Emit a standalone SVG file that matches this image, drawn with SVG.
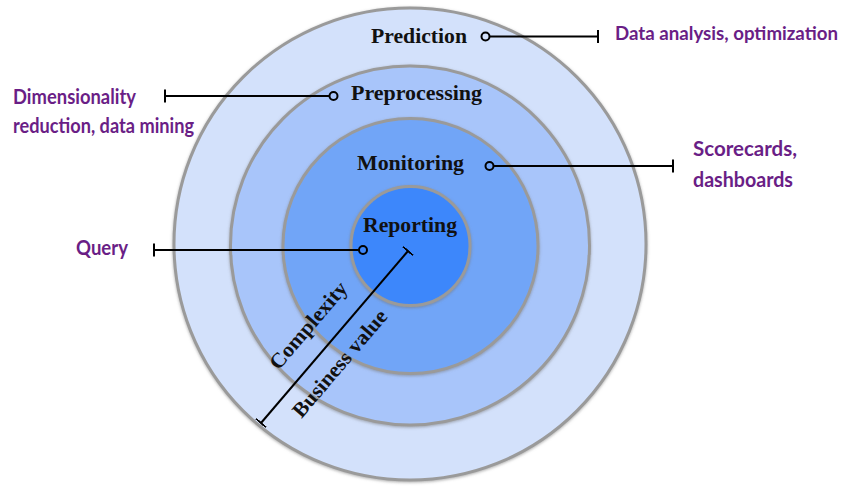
<svg xmlns="http://www.w3.org/2000/svg" width="845" height="486" viewBox="0 0 845 486">
<defs>
<filter id="sh" x="-10%" y="-10%" width="120%" height="120%">
<feDropShadow dx="0" dy="1" stdDeviation="1.5" flood-color="#777" flood-opacity="0.6"/>
</filter>
<marker id="tick" viewBox="-1 -7 2 14" markerWidth="2" markerHeight="14" orient="auto" markerUnits="userSpaceOnUse">
<line x1="0" y1="-6.5" x2="0" y2="6.5" stroke="#000" stroke-width="2"/>
</marker>
</defs>
<style>
.ring{stroke:#9a9a9a;stroke-width:3;filter:url(#sh)}
.lbl{font-family:"Liberation Serif","Times New Roman",serif;font-weight:bold;font-size:20px;fill:#111}
.ax{font-size:21px}
.note{font-family:Lato,"Open Sans",sans-serif;font-weight:bold;font-size:21px;fill:#6a1e86}
.lead{stroke:#000;stroke-width:2;fill:none}
.dot{stroke:#000;stroke-width:2;fill:none}
</style>
<rect width="845" height="486" fill="#fff"/>
<g id="prediction">
<circle class="ring" cx="410" cy="244" r="236" fill="#d3e1fb"/>
<text class="lbl" x="371" y="43" textLength="96" lengthAdjust="spacingAndGlyphs">Prediction</text>
</g>
<g id="preprocessing">
<circle class="ring" cx="410" cy="245.5" r="179.5" fill="#a8c5fa"/>
<text class="lbl" x="351" y="100" textLength="131" lengthAdjust="spacingAndGlyphs">Preprocessing</text>
</g>
<g id="monitoring">
<circle class="ring" cx="410.5" cy="246" r="127.5" fill="#71a5f7"/>
<text class="lbl" x="357" y="169.5" textLength="107" lengthAdjust="spacingAndGlyphs">Monitoring</text>
</g>
<g id="reporting">
<circle class="ring" cx="410.5" cy="246" r="59.5" fill="#3c87fb"/>
<text class="lbl" x="363" y="232" textLength="94" lengthAdjust="spacingAndGlyphs">Reporting</text>
</g>
<g id="note-prediction">
<text class="note" x="615" y="40" font-size="19" style="font-size:19px" textLength="223" lengthAdjust="spacingAndGlyphs">Data analysis, optimization</text>
</g>
<g id="note-preprocessing">
<text class="note" x="13" y="104" textLength="123" lengthAdjust="spacingAndGlyphs">Dimensionality</text>
<text class="note" x="13" y="133" textLength="181" lengthAdjust="spacingAndGlyphs">reduction, data mining</text>
</g>
<g id="note-monitoring">
<text class="note" x="693" y="156" textLength="104" lengthAdjust="spacingAndGlyphs">Scorecards,</text>
<text class="note" x="693" y="187" textLength="100" lengthAdjust="spacingAndGlyphs">dashboards</text>
</g>
<g id="note-reporting">
<text class="note" x="76" y="255" textLength="52" lengthAdjust="spacingAndGlyphs">Query</text>
</g>
<g id="axis-labels">
<text class="lbl ax" x="313.5" y="330" text-anchor="middle" textLength="108" lengthAdjust="spacingAndGlyphs" transform="rotate(-49.5 313.5 330)">Complexity</text>
<text class="lbl ax" x="345" y="368" text-anchor="middle" textLength="134" lengthAdjust="spacingAndGlyphs" transform="rotate(-49.5 345 368)">Business value</text>
</g>
<g id="connectors">
<circle class="dot" cx="485.5" cy="36.5" r="4"/>
<line class="lead" x1="489.5" y1="36.5" x2="598" y2="36.5" marker-end="url(#tick)"/>
<circle class="dot" cx="333.5" cy="96" r="4"/>
<line class="lead" x1="329.5" y1="96" x2="165" y2="96" marker-end="url(#tick)"/>
<circle class="dot" cx="489.5" cy="166" r="4"/>
<line class="lead" x1="493.5" y1="166" x2="673" y2="166" marker-end="url(#tick)"/>
<circle class="dot" cx="363" cy="250" r="4"/>
<line class="lead" x1="359" y1="250" x2="154" y2="250" marker-end="url(#tick)"/>
<line class="lead" x1="408" y1="251" x2="261" y2="423" marker-start="url(#tick)" marker-end="url(#tick)"/>
</g>
</svg>
